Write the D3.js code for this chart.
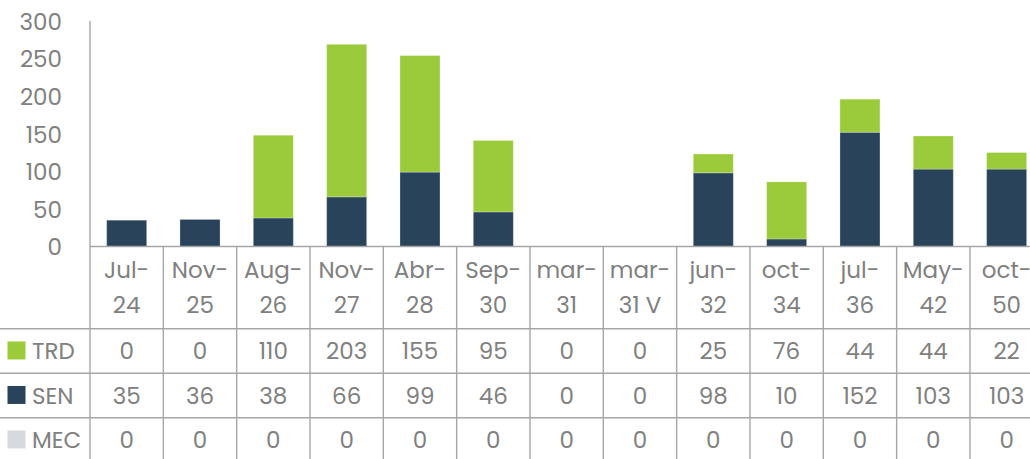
<!DOCTYPE html>
<html>
<head>
<meta charset="utf-8">
<script src="https://cdn.jsdelivr.net/npm/d3@7"></script>
<style>
  html, body { margin: 0; padding: 0; background: #fff; overflow: hidden; }
  svg { display: block; font-family: "Poppins", "Open Sans", sans-serif; }
</style>
</head>
<body>
<svg id="chart" width="1030" height="459"></svg>
<script>
// categories (two-line labels)
var categories = ["Jul-24", "Nov-25", "Aug-26", "Nov-27", "Abr-28", "Sep-30", "mar-31", "mar-31 V", "jun-32", "oct-34", "jul-36", "May-42", "oct-50"];
var catLine1 = ["Jul-", "Nov-", "Aug-", "Nov-", "Abr-", "Sep-", "mar-", "mar-", "jun-", "oct-", "jul-", "May-", "oct-"];
var catLine2 = ["24", "25", "26", "27", "28", "30", "31", "31 V", "32", "34", "36", "42", "50"];

var seriesNames = ["TRD", "SEN", "MEC"];
var trd = [0, 0, 110, 203, 155, 95, 0, 0, 25, 76, 44, 44, 22];
var sen = [35, 36, 38, 66, 99, 46, 0, 0, 98, 10, 152, 103, 103];
var mec = [0, 0, 0, 0, 0, 0, 0, 0, 0, 0, 0, 0, 0];
var yTicks = [0, 50, 100, 150, 200, 250, 300];

var colors = { TRD: "#9bcb3b", SEN: "#29435a", MEC: "#d6d9dd" };
var textColor = "#808080";
var lineColor = "#a6a6a6";

var svg = d3.select("#chart");
var plotLeft = 90, plotRight = 90 + 13 * 73.33;
var plotTop = 21, plotBase = 246.5;
var rowLines = [328.7, 373.2, 417.7, 462.2];

var x = d3.scaleBand().domain(categories).range([plotLeft, plotRight])
  .paddingInner(0.4545).paddingOuter(0.2273);
var col = d3.scaleBand().domain(categories).range([plotLeft, plotRight]);
var y = d3.scaleLinear().domain([0, 300]).range([plotBase, plotTop]);

// stacked data: SEN at bottom, TRD on top, MEC last
var rows = categories.map(function(c, i) {
  return { cat: c, SEN: sen[i], TRD: trd[i], MEC: mec[i] };
});
var stack = d3.stack().keys(["SEN", "TRD", "MEC"])(rows);

svg.append("g").selectAll("g")
  .data(stack)
  .join("g")
  .attr("fill", function(d) { return colors[d.key]; })
  .selectAll("rect")
  .data(function(d) { return d; })
  .join("rect")
  .attr("x", function(d) { return x(d.data.cat); })
  .attr("width", x.bandwidth())
  .attr("y", function(d) { return y(d[1]); })
  .attr("height", function(d) { return y(d[0]) - y(d[1]); })
  .attr("stroke", function(d) { return d[1] > d[0] ? "rgba(255,255,255,0.25)" : "none"; })
  .attr("stroke-width", 1);

// y axis labels
var yAxis = d3.axisLeft(y).tickValues(yTicks).tickSize(0).tickPadding(0);
var ga = svg.append("g").attr("transform", "translate(62,0)").call(yAxis);
ga.select(".domain").remove();
ga.selectAll("text")
  .attr("fill", textColor)
  .attr("dy", "0.36em")
  .style("font-size", "23px")
  .style("font-family", "Poppins, 'Open Sans', sans-serif");

// grid lines of the data table
var grid = svg.append("g").attr("stroke", lineColor).attr("stroke-width", 1.4);
grid.append("line").attr("x1", plotLeft).attr("x2", plotLeft).attr("y1", plotTop).attr("y2", 459);
grid.append("line").attr("x1", plotLeft).attr("x2", 1030).attr("y1", plotBase).attr("y2", plotBase);
grid.selectAll("line.col")
  .data(categories)
  .join("line")
  .attr("class", "col")
  .attr("x1", function(d) { return col(d) + col.step(); })
  .attr("x2", function(d) { return col(d) + col.step(); })
  .attr("y1", plotBase).attr("y2", 459);
grid.selectAll("line.row")
  .data(rowLines)
  .join("line")
  .attr("class", "row")
  .attr("x1", 0).attr("x2", 1030)
  .attr("y1", function(d) { return d; })
  .attr("y2", function(d) { return d; });

// category labels
var catG = svg.append("g")
  .attr("fill", textColor)
  .attr("font-size", 23)
  .attr("text-anchor", "middle");
catG.selectAll("text.l1")
  .data(categories)
  .join("text")
  .attr("class", "l1")
  .attr("x", function(d) { return col(d) + col.bandwidth() / 2; })
  .attr("y", 278.3)
  .text(function(d, i) { return catLine1[i]; });
catG.selectAll("text.l2")
  .data(categories)
  .join("text")
  .attr("class", "l2")
  .attr("x", function(d) { return col(d) + col.bandwidth() / 2; })
  .attr("y", 312.7)
  .text(function(d, i) { return catLine2[i]; });

// table rows
var tableSeries = [trd, sen, mec];
seriesNames.forEach(function(name, r) {
  var cy = (rowLines[r] + rowLines[r + 1]) / 2;
  var g = svg.append("g");
  g.append("rect")
    .attr("x", 7.5).attr("y", cy - 9.5)
    .attr("width", 18).attr("height", 18)
    .attr("fill", colors[name]);
  g.append("text")
    .attr("x", 32).attr("y", cy)
    .attr("dy", "0.36em")
    .attr("fill", textColor)
    .attr("font-size", 23)
    .text(name);
  g.selectAll("text.v")
    .data(tableSeries[r])
    .join("text")
    .attr("class", "v")
    .attr("x", function(d, i) { return col(categories[i]) + col.bandwidth() / 2; })
    .attr("y", cy)
    .attr("dy", "0.36em")
    .attr("text-anchor", "middle")
    .attr("fill", textColor)
    .attr("font-size", 23)
    .text(function(d) { return d; });
});
</script>
</body>
</html>
